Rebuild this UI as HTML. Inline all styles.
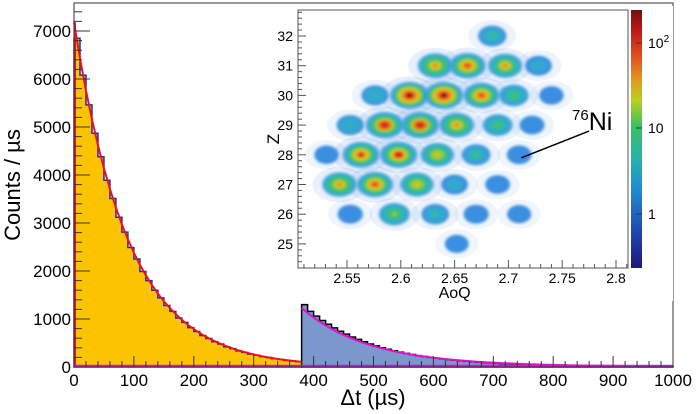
<!DOCTYPE html>
<html><head><meta charset="utf-8"><style>
html,body{margin:0;padding:0;background:#fff;}
svg{display:block;font-family:"Liberation Sans",sans-serif;}
</style></head><body>
<svg id="chart" width="699" height="414" viewBox="0 0 699 414" xmlns="http://www.w3.org/2000/svg">
<defs>
<linearGradient id="cbar" x1="0" y1="1" x2="0" y2="0">
<stop offset="0" stop-color="#1a1a7a"/><stop offset="0.12" stop-color="#1f3fa8"/>
<stop offset="0.3" stop-color="#1f8ad0"/><stop offset="0.42" stop-color="#2ab0b0"/>
<stop offset="0.55" stop-color="#3cc060"/><stop offset="0.65" stop-color="#b8d020"/>
<stop offset="0.72" stop-color="#e0a020"/><stop offset="0.82" stop-color="#e05020"/>
<stop offset="0.92" stop-color="#c01818"/><stop offset="1" stop-color="#701010"/>
</linearGradient>
<clipPath id="inclip"><rect x="298" y="10" width="330" height="258"/></clipPath>
<filter id="blur" x="-50%" y="-50%" width="200%" height="200%"><feGaussianBlur stdDeviation="1.2"/></filter>
</defs>
<g id="main"></g>
<g id="inset"></g>
</svg>
<script>
// ---- main histogram data (10 µs bins) ----
const yellowStarts = [0,10,20,30,40,50,60,70,80,90,100,110,120,130,140,150,160,170,180,190,200,210,220,230,240,250,260,270,280,290,300,310,320,330,340,350,360,370];
const yellowCounts = [6850,6080,5460,4870,4380,3890,3510,3120,2810,2490,2250,1990,1800,1600,1440,1280,1160,1020,930,820,740,655,595,525,478,420,382,335,305,268,245,215,197,172,158,137,126,110];
const blueStarts = [380,390,400,410,420,430,440,450,460,470,480,490,500,510,520,530,540,550,560,570,580,590,600,610,620,630,640,650,660,670,680,690,700,710,720,730,740,750,760,770,780,790,800,810,820,830,840,850,860,870,880,890,900,910,920,930,940,950,960,970,980,990];
const blueCounts = [1300,1160,1060,970,890,815,745,685,625,575,525,480,440,402,370,338,310,285,260,238,219,200,184,168,154,142,130,119,109,100,92,85,78,71,65,60,55,50,46,42,38,35,32,30,28,26,24,22,21,20,19,18,17,16,15,15,14,14,13,13,12,12];
const fitRed = [7180,6430,5760,5160,4620,4140,3710,3320,2970,2660,2380,2130,1910,1710,1530,1370,1230,1100,985,880,790,707,633,567,507,454,407,364,326,292,262,234,210,188,168,151,135,121,108];
const fitMagenta = [1230,1125,1030,945,866,794,728,668,613,563,517,475,437,402,370,341,314,289,267,246,227,210,194,179,166,153,142,132,122,113,105,97,90,84,78,72,67,62,58,54,50,47,44,41,38,35,33,31,29,27,26,24,23,22,21,20,19,18,17,17,16,16,15];
const xTicks = [0,100,200,300,400,500,600,700,800,900,1000];
const yTicks = [0,1000,2000,3000,4000,5000,6000,7000];

// ---- inset data ----
const blobAoQ = [2.685,2.632,2.662,2.697,2.728,2.576,2.608,2.640,2.675,2.705,2.740,2.553,2.585,2.618,2.652,2.690,2.722,2.531,2.563,2.598,2.634,2.670,2.710,2.543,2.576,2.615,2.650,2.690,2.553,2.594,2.632,2.670,2.710,2.652];
const blobZ   = [32,31,31,31,31,30,30,30,30,30,30,29,29,29,29,29,29,28,28,28,28,28,28,27,27,27,27,27,26,26,26,26,26,25];
const blobLevel=[0.48,0.8,0.86,0.75,0.4,0.42,1.0,1.0,0.85,0.55,0.28,0.42,0.95,0.95,0.8,0.55,0.3,0.28,0.9,0.92,0.72,0.5,0.3,0.78,0.86,0.72,0.4,0.3,0.32,0.6,0.45,0.32,0.26,0.25];
const aoqTicks = [2.55,2.6,2.65,2.7,2.75,2.8];
const zTicks = [25,26,27,28,29,30,31,32];

const NS="http://www.w3.org/2000/svg";
function mk(tag, attrs, parent, text){const e=document.createElementNS(NS,tag);for(const k in attrs)e.setAttribute(k,attrs[k]);if(text!==undefined)e.textContent=text;parent.appendChild(e);return e;}
const main=document.getElementById('main'), inset=document.getElementById('inset');
const X0=74,X1=673,Y0=367,PY=0.048;
const xs=t=>X0+(X1-X0)*t/1000;
const ys=v=>Y0-v*PY;

function histPath(starts,counts){let d=`M${xs(starts[0])},${ys(0)}`;for(let i=0;i<starts.length;i++){d+=` L${xs(starts[i])},${ys(counts[i])} L${xs(starts[i]+10)},${ys(counts[i])}`;}d+=` L${xs(starts[starts.length-1]+10)},${ys(0)}Z`;return d;}
let p=mk('path',{d:histPath(yellowStarts,yellowCounts),fill:'#fcc400',stroke:'#1a2fb0','stroke-width':1.5},main);

p=mk('path',{d:histPath(blueStarts,blueCounts),fill:'#7b97cc',stroke:'#000','stroke-width':1.5},main);

let pts=fitRed.map((v,i)=>`${xs(i*10)},${ys(v)}`).join(' ');
p=mk('polyline',{points:pts,fill:'none',stroke:'#f01020','stroke-width':2},main);

mk('line',{x1:X0+1,y1:ys(0),x2:X0+1,y2:ys(fitRed[0]),stroke:'#f01020','stroke-width':2},main);
pts=fitMagenta.map((v,i)=>`${xs(380+i*10)},${ys(v)}`).join(' ');
p=mk('polyline',{points:pts,fill:'none',stroke:'#e010d0','stroke-width':2},main);

p=mk('line',{x1:X0,y1:ys(0)-1,x2:X1,y2:ys(0)-1,stroke:'#e010d0','stroke-width':2.5},main);

p=mk('rect',{x:X0,y:3,width:X1-X0,height:Y0-3,fill:'none',stroke:'#333','stroke-width':1},main);

for(let t=0;t<=1000;t+=20){const big=t%100===0;mk('line',{x1:xs(t),y1:Y0,x2:xs(t),y2:Y0-(big?11:6),stroke:'#333','stroke-width':1},main);}
xTicks.forEach(t=>{const e=mk('text',{x:xs(t),y:Y0+19,'font-size':17,'text-anchor':'middle',fill:'#000'},main,String(t));
});
for(let v=0;v<=7400;v+=200){const big=v%1000===0;mk('line',{x1:X0,y1:ys(v),x2:X0+(big?16:8),y2:ys(v),stroke:'#333','stroke-width':1},main);}
yTicks.forEach(v=>{const e=mk('text',{x:X0-3,y:ys(v)+6,'font-size':17,'text-anchor':'end',fill:'#000'},main,String(v));
});
let e=mk('text',{x:373,y:405,'font-size':22,'text-anchor':'middle',fill:'#000'},main,'Δt (µs)');

e=mk('text',{x:0,y:0,'font-size':22,'text-anchor':'middle',fill:'#000',transform:'translate(20,185) rotate(-90)'},main,'Counts / µs');


// ---- inset ----
const IX0=298,IX1=628,IY0=268,IY1=10;
const ax=a=>347+(a-2.55)/0.05*53.8;
const az=z=>36+(32-z)*29.7;
e=mk('rect',{x:268,y:6,width:405,height:295,fill:'#fff'},inset);

const cmap=[[0,'#1a2a8a'],[0.15,'#2060c0'],[0.25,'#3a8ee0'],[0.33,'#30a8d0'],[0.42,'#30b8a8'],[0.5,'#40c070'],[0.6,'#98cc30'],[0.68,'#e0c020'],[0.75,'#e89020'],[0.82,'#e05020'],[0.9,'#cc2020'],[0.97,'#8a1010']];
function col(l){for(let i=cmap.length-1;i>=0;i--)if(l>=cmap[i][0])return cmap[i][1];return cmap[0][1];}
const g=mk('g',{'clip-path':'url(#inclip)'},inset);
blobAoQ.forEach((a,i)=>{const L=blobLevel[i];const h=mk('ellipse',{cx:ax(a),cy:az(blobZ[i]),rx:19+L*10,ry:13+L*6,fill:'#4a8ee0','fill-opacity':0.06+L*0.09},g);
});
blobAoQ.forEach((a,i)=>{const L=blobLevel[i];
const bg=mk('g',{filter:'url(#blur)'},g);
const n=8;for(let k=0;k<n;k++){const s=k/(n-1);const f=1-s*0.85;
mk('ellipse',{cx:ax(a),cy:az(blobZ[i]),rx:(10+L*10)*f,ry:(8+L*6)*f,fill:col(Math.max(0.26,0.3+(L-0.3)*s)),'fill-opacity':k===0?0.6:1},bg);}});
e=mk('rect',{x:IX0,y:IY1,width:IX1-IX0,height:IY0-IY1,fill:'none',stroke:'#555','stroke-width':1},inset);

for(let a=2.51;a<=2.815;a+=0.01){const big=Math.abs(Math.round(a*100)%5)===0;mk('line',{x1:ax(a),y1:IY0,x2:ax(a),y2:IY0-(big?8:4),stroke:'#555'},inset);}
aoqTicks.forEach(a=>{const t=mk('text',{x:ax(a),y:IY0+15,'font-size':14,'text-anchor':'middle'},inset,String(a));
});
for(let z=24.4;z<=32.8;z+=0.2){const big=Math.abs(z-Math.round(z))<0.01;mk('line',{x1:IX0,y1:az(z),x2:IX0+(big?8:4),y2:az(z),stroke:'#555'},inset);}
zTicks.forEach(z=>{const t=mk('text',{x:IX0-5,y:az(z)+5,'font-size':14,'text-anchor':'end'},inset,String(z));
});
e=mk('text',{x:ax(2.65),y:298,'font-size':16,'text-anchor':'middle'},inset,'AoQ');

e=mk('text',{x:0,y:0,'font-size':17,'text-anchor':'middle',transform:'translate(279,139) rotate(-90)'},inset,'Z');

e=mk('rect',{x:631,y:10,width:11,height:258,fill:'url(#cbar)'},inset);

[[43,'10','2'],[128,'10',''],[214,'1','']].forEach(c=>{const t=mk('text',{x:648,y:c[0]+5,'font-size':14},inset,c[1]);
if(c[2]){mk('tspan',{dy:-6,'font-size':10},t,c[2]);}

mk('line',{x1:636,y1:c[0],x2:642,y2:c[0],stroke:'#333'},inset);});
e=mk('line',{x1:ax(2.712),y1:az(27.9),x2:ax(2.775),y2:az(28.8),stroke:'#000','stroke-width':1.5},inset);

e=mk('text',{x:572,y:130,'font-size':25},inset,'');
mk('tspan',{'font-size':15,dy:-10},e,'76');mk('tspan',{dy:10},e,'Ni');

</script>
</body></html>
